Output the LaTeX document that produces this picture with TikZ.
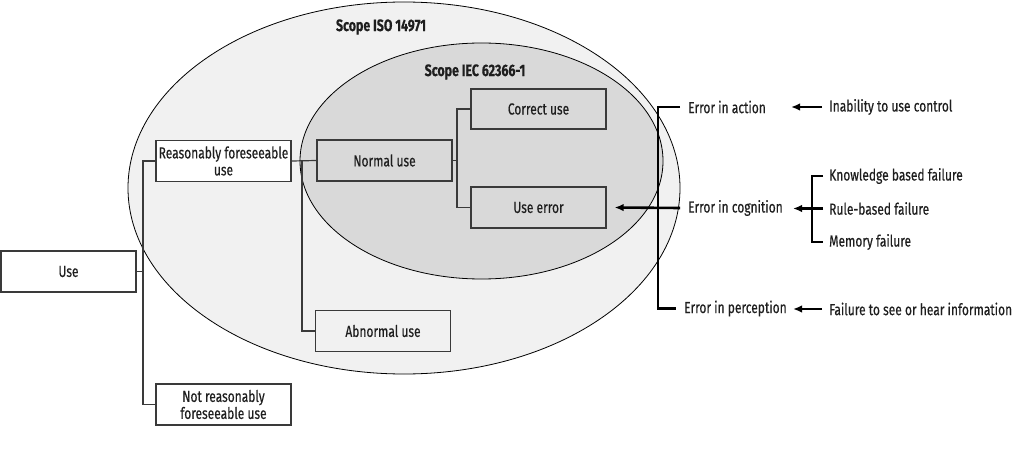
\documentclass[tikz,border=0pt]{standalone}
\usepackage{fontspec}
\setmainfont[FakeStretch=0.75,FakeBold=0.35,BoldFeatures={FakeBold=0.5}]{Fira Sans}
\usetikzlibrary{arrows.meta}
\definecolor{outerfill}{HTML}{F1F1F1}
\definecolor{innerfill}{HTML}{D9D9D9}
\definecolor{boxline}{HTML}{3A3A3A}
\definecolor{txt}{HTML}{1E1E1E}
\begin{document}
\begin{tikzpicture}[x=1pt,y=-1pt,
  font=\fontsize{16}{17}\selectfont, text=txt,
  box/.style={draw=boxline, line width=1.1pt, minimum width=135pt, minimum height=41pt, inner sep=1pt, align=center},
  lbl/.style={anchor=west, inner sep=2pt},
  thin/.style={draw=boxline, line width=1.2pt},
  heavy/.style={draw=black, line width=2.6pt},
  arr/.style={draw=black, line width=2.6pt, -{Latex[length=9pt,width=7.5pt]}},
  title/.style={font=\fontsize{16.5}{18}\selectfont\bfseries}
]
\useasboundingbox (0,0) rectangle (1024,457);
% ellipses
\draw[fill=outerfill, line width=0.8pt] (404,188) ellipse [x radius=276, y radius=186];
\draw[fill=innerfill, line width=0.8pt] (481.5,161) ellipse [x radius=181.5, y radius=118];
\node[title] (t1) at (381,27) {Scope ISO 14971};
\node[title] (t2) at (475,72) {Scope IEC 62366-1};
% boxes
\node[box, fill=white, minimum width=135pt] (use) at (68.5,271.5) {Use};
\node[box, fill=white] (rf) at (223.5,161) {Reasonably foreseeable\\use};
\node[box, fill=white] (nrf) at (223.5,404.5) {Not reasonably\\foreseeable use};
\node[box, fill=innerfill] (normal) at (384.5,160.5) {Normal use};
\node[box, fill=innerfill, minimum height=40pt] (correct) at (538.5,109) {Correct use};
\node[box, fill=innerfill] (useerr) at (538.5,207.5) {Use error};
\node[box, fill=outerfill] (abnormal) at (383,331) {Abnormal use};
% tree connectors
\coordinate (j1) at (143,271.5);
\coordinate (j2) at (302,161);
\coordinate (j3) at (457,160.5);
\draw[thin] (use.east) -- (j1);
\draw[thin] (rf.west) -- (rf.west -| j1) -- (nrf.west -| j1) -- (nrf.west);
\draw[thin] (rf.east) -- (normal.west);
\draw[thin] (j2) |- (abnormal.west);
\draw[thin] (normal.east) -- (j3);
\draw[thin] (correct.west) -- (correct.west -| j3) -- (useerr.west -| j3) -- (useerr.west);
% error labels
\node[lbl] (ea) at (686,107) {Error in action};
\node[lbl] (ec) at (686,208) {Error in cognition};
\node[lbl] (ep) at (682,308.5) {Error in perception};
\node[lbl] (ic) at (827,107) {Inability to use control};
\node[lbl] (kb) at (827,176) {Knowledge based failure};
\node[lbl] (rb) at (827,208.5) {Rule-based failure};
\node[lbl] (mf) at (827,242) {Memory failure};
\node[lbl] (fs) at (827,309) {Failure to see or hear information};
\coordinate (bx) at (658,0);
\coordinate (cx) at (812,0);
% heavy bracket
\draw[heavy] ([xshift=-6pt]ea.west) -- (ea.west -| bx) -- (ep.west -| bx) -- ([xshift=-6pt]ep.west);
\draw[arr] ([xshift=-6pt]ec.west) -- ([xshift=8pt]useerr.east);
% right side
\draw[arr] ([xshift=-5pt]ic.west) -- ([xshift=-36pt]ic.west);
\draw[heavy] ([xshift=-4pt]kb.west) -- (kb.west -| cx) -- (mf.west -| cx) -- ([xshift=-4pt]mf.west);
\draw[arr] ([xshift=-4pt]rb.west) -- ([xshift=-34pt]rb.west);
\draw[arr] ([xshift=-5pt]fs.west) -- ([xshift=-34pt]fs.west);
\end{tikzpicture}
\end{document}
